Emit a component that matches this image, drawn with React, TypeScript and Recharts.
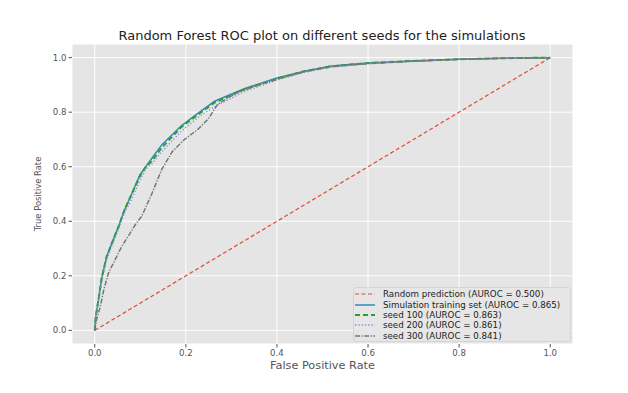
import React from "react";
import { CartesianGrid, Line, LineChart, XAxis, YAxis } from "recharts";

if (typeof document !== "undefined") document.body.style.margin = "0";

// ROC points (false positive rate, true positive rate)
const randomFpr = [0, 1];
const randomTpr = [0, 1];

const trainFpr = [0, 0.002, 0.008, 0.015, 0.026, 0.04, 0.052, 0.065, 0.081, 0.099, 0.112, 0.125, 0.147, 0.19, 0.23, 0.263, 0.328, 0.4, 0.46, 0.519, 0.6, 0.7, 0.8, 0.9, 1.0];
const trainTpr = [0, 0.05, 0.11, 0.19, 0.27, 0.33, 0.38, 0.44, 0.5, 0.57, 0.6, 0.63, 0.68, 0.75, 0.8, 0.84, 0.886, 0.925, 0.95, 0.969, 0.98, 0.988, 0.994, 0.998, 1.0];

const seed100Fpr = [0, 0.002, 0.008, 0.015, 0.026, 0.04, 0.052, 0.065, 0.081, 0.099, 0.112, 0.125, 0.147, 0.19, 0.23, 0.263, 0.328, 0.4, 0.46, 0.519, 0.6, 0.7, 0.8, 0.9, 1.0];
const seed100Tpr = [0, 0.05, 0.11, 0.19, 0.27, 0.33, 0.38, 0.44, 0.5, 0.565, 0.6, 0.62, 0.67, 0.745, 0.795, 0.835, 0.883, 0.923, 0.95, 0.968, 0.98, 0.988, 0.994, 0.998, 1.0];

const seed200Fpr = [0, 0.002, 0.008, 0.015, 0.026, 0.04, 0.052, 0.065, 0.081, 0.099, 0.112, 0.125, 0.147, 0.19, 0.23, 0.263, 0.328, 0.4, 0.46, 0.519, 0.6, 0.7, 0.8, 0.9, 1.0];
const seed200Tpr = [0, 0.05, 0.1, 0.18, 0.26, 0.32, 0.37, 0.43, 0.48, 0.55, 0.59, 0.61, 0.655, 0.73, 0.785, 0.82, 0.875, 0.918, 0.946, 0.966, 0.978, 0.987, 0.994, 0.998, 1.0];

const seed300Fpr = [0, 0.004, 0.012, 0.02, 0.03, 0.045, 0.059, 0.077, 0.09, 0.103, 0.125, 0.147, 0.17, 0.197, 0.227, 0.249, 0.27, 0.314, 0.36, 0.42, 0.46, 0.519, 0.6, 0.7, 0.8, 0.9, 1.0];
const seed300Tpr = [0, 0.04, 0.086, 0.15, 0.21, 0.26, 0.307, 0.355, 0.39, 0.418, 0.5, 0.59, 0.655, 0.7, 0.738, 0.775, 0.83, 0.873, 0.9, 0.93, 0.948, 0.966, 0.978, 0.987, 0.994, 0.998, 1.0];

const ticks = [0, 0.2, 0.4, 0.6, 0.8, 1.0];

const toPoints = (fpr: number[], tpr: number[]) => fpr.map((x, i) => ({ x, y: tpr[i] }));

const series = [
  { name: "Random prediction (AUROC = 0.500)", data: toPoints(randomFpr, randomTpr), color: "#E24A33", width: 1.2, dash: "4 2.5" },
  { name: "Simulation training set (AUROC = 0.865)", data: toPoints(trainFpr, trainTpr), color: "#348ABD", width: 1.5, dash: undefined },
  { name: "seed 100 (AUROC = 0.863)", data: toPoints(seed100Fpr, seed100Tpr), color: "#2ca02c", width: 2, dash: "5 3" },
  { name: "seed 200 (AUROC = 0.861)", data: toPoints(seed200Fpr, seed200Tpr), color: "#8d84e0", width: 1.3, dash: "1.3 2" },
  { name: "seed 300 (AUROC = 0.841)", data: toPoints(seed300Fpr, seed300Tpr), color: "#777777", width: 1.5, dash: "5 1.5 1.2 1.5" },
];

const font = "'DejaVu Sans', sans-serif";

function LegendBox() {
  return (
    <div
      style={{
        position: "absolute",
        left: 353,
        top: 287,
        width: 218,
        height: 55,
        boxSizing: "border-box",
        background: "rgba(229,229,229,0.9)",
        border: "1px solid #d4d4d4",
        borderRadius: 3,
        padding: "1px 3px 2px 1px",
        fontFamily: font,
        fontSize: 8.7,
        lineHeight: "10px",
        color: "#222",
      }}
    >
      {series.map((s) => (
        <div key={s.name} style={{ display: "flex", alignItems: "center", height: 10.4, whiteSpace: "nowrap" }}>
          <svg width={20} height={8} style={{ marginRight: 8 }}>
            <line x1={0} y1={4} x2={20} y2={4} stroke={s.color} strokeWidth={s.width} strokeDasharray={s.dash} />
          </svg>
          <span>{s.name}</span>
        </div>
      ))}
    </div>
  );
}

export default function App() {
  return (
    <div style={{ position: "relative", width: 628, height: 393, background: "#fff", fontFamily: font }}>
      <div
        style={{
          position: "absolute",
          top: 28,
          left: 22,
          width: 600,
          textAlign: "center",
          fontSize: 13,
          color: "#222",
        }}
      >
        Random Forest ROC plot on different seeds for the simulations
      </div>
      <LineChart width={628} height={393} margin={{ top: 44, right: 55, bottom: 0, left: 28 }}>
        <CartesianGrid fill="#E5E5E5" stroke="#ffffff" strokeWidth={1} />
        <XAxis
          type="number"
          dataKey="x"
          domain={[-0.05, 1.05]}
          ticks={ticks}
          allowDataOverflow
          height={49}
          axisLine={false}
          tickSize={3.5}
          tickLine={{ stroke: "#555" }}
          tick={{ fill: "#555", fontSize: 8.6, fontFamily: font }}
          tickFormatter={(v: number) => v.toFixed(1)}
          label={{ value: "False Positive Rate", position: "insideBottom", offset: 24, fill: "#555", fontSize: 11.3, fontFamily: font }}
        />
        <YAxis
          type="number"
          dataKey="y"
          domain={[-0.05, 1.05]}
          ticks={ticks}
          allowDataOverflow
          width={44}
          axisLine={false}
          tickSize={3.5}
          tickLine={{ stroke: "#555" }}
          tick={{ fill: "#555", fontSize: 8.6, fontFamily: font }}
          tickFormatter={(v: number) => v.toFixed(1)}
          label={{ value: "True Positive Rate", angle: -90, position: "insideLeft", offset: 10, fill: "#555", fontSize: 8.4, fontFamily: font, style: { textAnchor: "middle" } }}
        />
        {series.map((s) => (
          <Line
            key={s.name}
            data={s.data}
            dataKey="y"
            name={s.name}
            type="linear"
            stroke={s.color}
            strokeWidth={s.width}
            strokeDasharray={s.dash}
            dot={false}
            isAnimationActive={false}
          />
        ))}
      </LineChart>
      <LegendBox />
    </div>
  );
}
